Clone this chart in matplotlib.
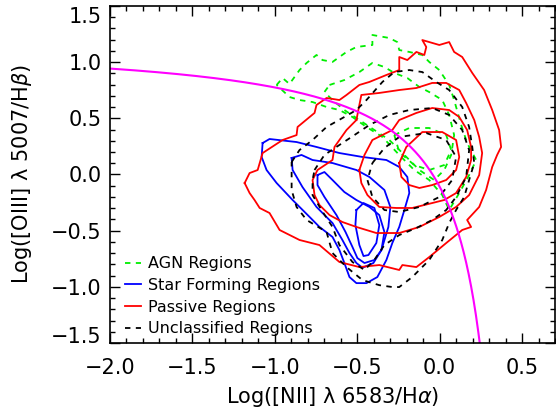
import numpy as np
import matplotlib
matplotlib.use('Agg')
import matplotlib.pyplot as plt
from matplotlib.ticker import MultipleLocator, FixedLocator
from matplotlib.transforms import ScaledTranslation

# ---- contour levels, (log NII/Ha, log OIII/Hb) ----
agn_outer = [(-0.989, 0.797), (-0.953, 0.859), (-0.911, 0.806), (-0.85, 0.93), (-0.807, 0.993),
             (-0.747, 1.064), (-0.711, 1.019), (-0.65, 1.002), (-0.565, 1.091), (-0.505, 1.135),
             (-0.408, 1.153), (-0.408, 1.242), (-0.305, 1.215), (-0.257, 1.179), (-0.245, 1.108),
             (-0.184, 1.091), (-0.105, 1.064), (-0.063, 1.002), (-0.002, 0.93), (0.058, 0.797),
             (0.088, 0.663), (0.131, 0.441), (0.167, 0.28), (0.222, 0.129), (0.179, -0.005),
             (0.119, -0.165), (0.058, -0.316), (0.016, -0.183), (-0.063, -0.049), (-0.154, 0.04),
             (-0.245, 0.174), (-0.347, 0.334), (-0.444, 0.423), (-0.529, 0.512), (-0.608, 0.574),
             (-0.686, 0.601), (-0.771, 0.645), (-0.85, 0.663), (-0.911, 0.69)]
agn_mid = [(-0.668, 0.797), (-0.578, 0.841), (-0.487, 0.912), (-0.408, 0.993), (-0.335, 0.957),
           (-0.275, 0.904), (-0.196, 0.859), (-0.123, 0.779), (-0.063, 0.734), (0.016, 0.663),
           (0.058, 0.53), (0.088, 0.351), (0.07, 0.174), (0.028, 0.04), (-0.033, -0.049),
           (-0.123, 0.04), (-0.214, 0.174), (-0.305, 0.307), (-0.396, 0.396), (-0.487, 0.485),
           (-0.578, 0.574), (-0.65, 0.663), (-0.699, 0.734)]
agn_inner = [(-0.275, 0.351), (-0.184, 0.414), (-0.063, 0.414), (0.04, 0.351), (0.07, 0.218),
             (0.028, 0.084), (-0.063, 0.04), (-0.154, 0.084), (-0.245, 0.2)]

sf_1 = [(-1.074, 0.28), (-1.032, 0.316), (-0.868, 0.289), (-0.747, 0.245), (-0.608, 0.191),
        (-0.468, 0.156), (-0.323, 0.129), (-0.245, 0.067), (-0.196, -0.022), (-0.184, -0.165),
        (-0.214, -0.316), (-0.245, -0.467), (-0.287, -0.61), (-0.323, -0.761), (-0.378, -0.913),
        (-0.444, -0.967), (-0.505, -0.967), (-0.547, -0.913), (-0.578, -0.788), (-0.608, -0.672),
        (-0.65, -0.556), (-0.729, -0.467), (-0.789, -0.378), (-0.892, -0.227), (-0.989, -0.076),
        (-1.05, 0.04), (-1.08, 0.156)]
sf_2 = [(-0.898, 0.147), (-0.838, 0.174), (-0.771, 0.129), (-0.65, 0.102), (-0.505, 0.04),
        (-0.426, -0.022), (-0.335, -0.138), (-0.299, -0.289), (-0.311, -0.467), (-0.353, -0.672),
        (-0.402, -0.788), (-0.468, -0.83), (-0.505, -0.788), (-0.547, -0.699), (-0.59, -0.583),
        (-0.65, -0.432), (-0.747, -0.289), (-0.832, -0.112), (-0.892, 0.04)]
sf_3 = [(-0.741, -0.005), (-0.699, 0.022), (-0.65, -0.049), (-0.578, -0.156), (-0.505, -0.227),
        (-0.426, -0.289), (-0.366, -0.361), (-0.335, -0.512), (-0.353, -0.672), (-0.396, -0.761),
        (-0.456, -0.788), (-0.499, -0.744), (-0.529, -0.645), (-0.571, -0.512), (-0.626, -0.361),
        (-0.699, -0.2), (-0.741, -0.094)]
sf_4 = [(-0.505, -0.316), (-0.462, -0.254), (-0.396, -0.298), (-0.366, -0.45), (-0.384, -0.61),
        (-0.432, -0.717), (-0.462, -0.726), (-0.487, -0.628), (-0.511, -0.45)]

passive_1 = [(-1.183, -0.076), (-1.153, 0.013), (-1.104, 0.04), (-1.074, 0.191), (-0.953, 0.307),
             (-0.868, 0.351), (-0.862, 0.423), (-0.759, 0.548), (-0.747, 0.619), (-0.686, 0.681),
             (-0.608, 0.663), (-0.565, 0.708), (-0.487, 0.797), (-0.426, 0.824), (-0.323, 0.886),
             (-0.245, 0.93), (-0.245, 1.046), (-0.196, 1.019), (-0.141, 1.091), (-0.093, 1.064),
             (-0.081, 1.135), (-0.105, 1.197), (-0.002, 1.153), (0.058, 1.179), (0.088, 1.091),
             (0.137, 1.046), (0.198, 0.904), (0.27, 0.752), (0.319, 0.574), (0.361, 0.396),
             (0.373, 0.245), (0.349, 0.174), (0.319, 0.067), (0.282, -0.138), (0.24, -0.289),
             (0.167, -0.405), (0.191, -0.467), (0.137, -0.494), (0.04, -0.61), (-0.063, -0.735),
             (-0.141, -0.824), (-0.226, -0.806), (-0.245, -0.85), (-0.366, -0.806), (-0.487, -0.824),
             (-0.608, -0.779), (-0.729, -0.628), (-0.85, -0.583), (-0.971, -0.494), (-1.032, -0.343),
             (-1.092, -0.298), (-1.123, -0.227), (-1.153, -0.165)]
passive_2 = [(-0.505, 0.485), (-0.475, 0.708), (-0.366, 0.726), (-0.245, 0.752), (-0.141, 0.77),
             (-0.045, 0.815), (0.04, 0.815), (0.119, 0.752), (0.161, 0.636), (0.21, 0.485),
             (0.24, 0.334), (0.258, 0.191), (0.24, -0.005), (0.179, -0.183), (0.1, -0.289),
             (-0.002, -0.378), (-0.123, -0.467), (-0.245, -0.521), (-0.384, -0.521), (-0.505, -0.467),
             (-0.59, -0.423), (-0.668, -0.361), (-0.729, -0.272), (-0.759, -0.183), (-0.771, -0.049),
             (-0.741, 0.04), (-0.65, 0.129), (-0.638, 0.245), (-0.565, 0.396)]
passive_3 = [(-0.487, 0.04), (-0.456, 0.174), (-0.408, 0.307), (-0.287, 0.396), (-0.245, 0.485),
             (-0.141, 0.548), (-0.045, 0.592), (0.058, 0.574), (0.119, 0.512), (0.167, 0.396),
             (0.191, 0.245), (0.191, 0.129), (0.161, -0.022), (0.1, -0.165), (0.028, -0.227),
             (-0.045, -0.254), (-0.166, -0.298), (-0.263, -0.298), (-0.366, -0.289), (-0.438, -0.183),
             (-0.475, -0.076)]
passive_4 = [(-0.245, 0.102), (-0.202, 0.245), (-0.105, 0.378), (0.016, 0.378), (0.1, 0.307),
             (0.119, 0.156), (0.1, 0.04), (0.04, -0.049), (-0.045, -0.094), (-0.123, -0.12),
             (-0.184, -0.094), (-0.232, -0.022)]

uncl_1 = [(-0.898, 0.111), (-0.85, 0.218), (-0.771, 0.307), (-0.686, 0.423), (-0.578, 0.512),
          (-0.505, 0.574), (-0.444, 0.663), (-0.347, 0.824), (-0.275, 0.912), (-0.184, 0.93),
          (-0.105, 0.912), (-0.021, 0.824), (0.058, 0.752), (0.137, 0.601), (0.179, 0.423),
          (0.198, 0.245), (0.21, 0.102), (0.179, -0.049), (0.149, -0.2), (0.1, -0.316),
          (0.058, -0.432), (0.016, -0.583), (-0.063, -0.761), (-0.166, -0.913), (-0.245, -1.002),
          (-0.287, -1.002), (-0.366, -0.985), (-0.468, -0.94), (-0.565, -0.824), (-0.65, -0.699),
          (-0.686, -0.512), (-0.807, -0.405), (-0.868, -0.289), (-0.898, -0.138)]
uncl_2 = [(-0.759, 0.04), (-0.699, 0.174), (-0.608, 0.263), (-0.517, 0.351), (-0.426, 0.441),
          (-0.305, 0.53), (-0.184, 0.574), (-0.045, 0.592), (0.058, 0.53), (0.137, 0.396),
          (0.179, 0.218), (0.161, -0.022), (0.1, -0.2), (0.04, -0.316), (-0.045, -0.405),
          (-0.141, -0.476), (-0.245, -0.539), (-0.335, -0.628), (-0.396, -0.761), (-0.456, -0.85),
          (-0.529, -0.779), (-0.608, -0.628), (-0.65, -0.467), (-0.717, -0.316), (-0.771, -0.183),
          (-0.771, -0.049)]
uncl_3 = [(-0.408, 0.102), (-0.335, 0.236), (-0.245, 0.334), (-0.081, 0.369), (0.04, 0.307),
          (0.1, 0.156), (0.076, -0.049), (-0.002, -0.2), (-0.123, -0.289), (-0.245, -0.334),
          (-0.335, -0.316), (-0.408, -0.2), (-0.438, -0.049)]

# Kewley et al. (2001) maximum starburst line
kew_a, kew_b, kew_c = 0.61, 0.47, 1.19

groups = [
    ('AGN Regions', '#00ee00', 'dashed', [agn_outer, agn_mid, agn_inner]),
    ('Star Forming Regions', '#0000ff', 'solid', [sf_1, sf_2, sf_3, sf_4]),
    ('Passive Regions', '#ff0000', 'solid', [passive_1, passive_2, passive_3, passive_4]),
    ('Unclassified Regions', 'black', 'dashed', [uncl_1, uncl_2, uncl_3]),
]

fig = plt.figure(figsize=(5.56, 4.15), dpi=100)
ax = fig.add_axes([110 / 556, 72 / 415, 445 / 556, 337 / 415])

handles = []
for name, col, ls, levels in groups:
    for i, lev in enumerate(levels):
        pts = np.array(lev + [lev[0]])
        if ls == 'dashed':
            line, = ax.plot(pts[:, 0], pts[:, 1], color=col, lw=1.3, linestyle=(0, (3, 3)))
        else:
            line, = ax.plot(pts[:, 0], pts[:, 1], color=col, lw=1.3)
        if i == 0:
            handles.append((line, name))

xk = np.linspace(-2.0, kew_b - kew_a / (kew_c + 1.5), 300)
ax.plot(xk, kew_a / (xk - kew_b) + kew_c, color='#ff00ff', lw=1.5)

ax.set_xlim(-2.0, 0.7)
ax.set_ylim(-1.5, 1.5)
ax.xaxis.set_major_locator(FixedLocator([-2.0, -1.5, -1.0, -0.5, 0.0, 0.5]))
ax.yaxis.set_major_locator(FixedLocator([-1.5, -1.0, -0.5, 0.0, 0.5, 1.0, 1.5]))
ax.xaxis.set_minor_locator(MultipleLocator(0.1))
ax.yaxis.set_minor_locator(MultipleLocator(0.1))
ax.tick_params(which='both', direction='in', top=True, right=True, width=1.0)
ax.tick_params(which='major', length=7, labelsize=15)
ax.tick_params(which='minor', length=3.5)
ax.tick_params(axis='x', which='major', pad=11)
ax.tick_params(axis='y', which='major', pad=6)
for sp in ax.spines.values():
    sp.set_linewidth(1.2)

ax.set_xlabel('Log([NII] λ 6583/H$\\alpha$)', fontsize=15, labelpad=5)
ax.set_ylabel('Log([OIII] λ 5007/H$\\beta$)', fontsize=15, labelpad=12)

leg = ax.legend([h for h, _ in handles], [n for _, n in handles], loc='lower left',
                bbox_to_anchor=(0.025, 0.008), frameon=False, fontsize=11.5,
                handlelength=1.0, handletextpad=0.45, labelspacing=0.42,
                borderpad=0.25, borderaxespad=0.0)

# IDL puts the end labels inside the axis range
fig.canvas.draw()
ylabs = ax.get_yticklabels()
ylabs[0].set_transform(ylabs[0].get_transform() + ScaledTranslation(0, 8 / 100, fig.dpi_scale_trans))
ylabs[-1].set_transform(ylabs[-1].get_transform() + ScaledTranslation(0, -9 / 100, fig.dpi_scale_trans))

fig.savefig('out.png', dpi=100)
